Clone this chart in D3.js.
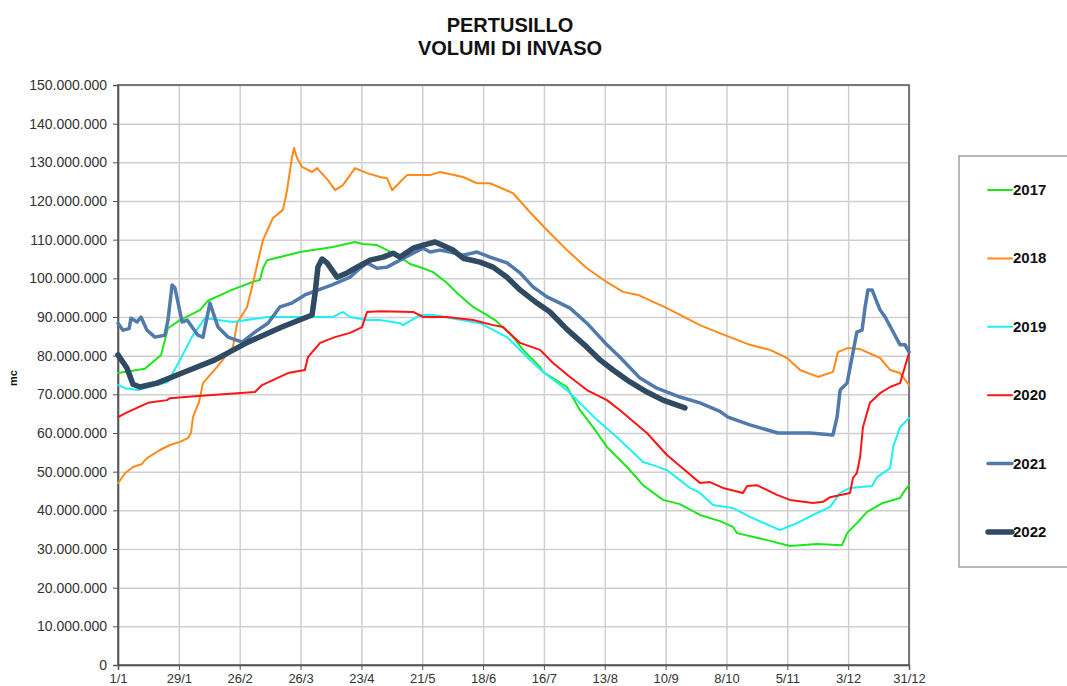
<!DOCTYPE html>
<html>
<head>
<meta charset="utf-8">
<script src="https://cdn.jsdelivr.net/npm/d3@7"></script>
<style>
  body { margin: 0; background: #fff; }
  svg { display: block; font-family: 'Liberation Sans', Arial, sans-serif; }
</style>
</head>
<body>
<svg id="chart" width="1067" height="686"></svg>
<script>
// [day of year, million m3]
const s2017 = [[0,75.5],[12.4,76.6],[19.8,80.2],[23,87.1],[28.5,89.2],[37.7,91.8],[41.4,94.2],[52.4,97],[61.6,99],[65.3,99.6],[66.7,102.6],[68.6,104.7],[83.8,106.8],[98.9,108.1],[109,109.4],[112.7,108.9],[119.2,108.6],[123.8,107.3],[129.8,105.5],[134.4,103.7],[140.4,102.6],[145,101.6],[151.4,98.8],[156,96.2],[163.4,92.6],[169.8,90.5],[173.5,89.2],[181.8,84.8],[186.4,81.5],[194.2,77.1],[195.6,75.8],[206.6,71.9],[212.6,65.9],[218.6,61.5],[225,56.4],[234.2,51.2],[241.6,46.5],[250.8,42.7],[258.6,41.6],[267.8,38.8],[277,37.2],[283,35.7],[284.9,34.1],[298.7,32.3],[309.2,30.8],[321.7,31.3],[333.2,31],[335.5,34.1],[340,36.7],[344.7,39.6],[352,41.9],[359.9,43.2],[361.3,44.5],[364,46.5]];
const s2018 = [[0,47],[3.2,49.6],[6.9,51.2],[11,52],[13.3,53.5],[19.3,55.6],[23.9,56.9],[28.5,57.7],[32.2,58.7],[33.6,60],[34.5,64.1],[37.3,68],[39.1,72.9],[45.6,77.1],[52.9,82.2],[54.8,88.4],[59.4,92.6],[62.1,98.8],[66.7,109.9],[71.3,115.6],[75.9,117.7],[77.8,122.8],[80.1,131.4],[81,133.7],[82.4,131.1],[84.7,128.8],[89.3,127.5],[91.6,128.5],[96.6,125.4],[99.9,122.8],[103.5,124.1],[109.1,128.5],[114.6,127.2],[120.6,126.2],[123.8,125.9],[126.1,122.8],[129.8,124.9],[133,126.7],[143.6,126.7],[148.2,127.5],[158.8,126.2],[165.2,124.6],[171.2,124.6],[181.8,122],[189.6,117.1],[197.4,112.5],[206.6,107.3],[215.8,102.6],[225,99],[232.4,96.5],[239.3,95.7],[252.6,92.3],[267.8,87.9],[275.7,86.1],[290.8,82.8],[300,81.5],[307.9,79.4],[313.9,76.3],[322.1,74.5],[329,75.8],[331.3,80.9],[335.9,82],[341.5,81.7],[350.7,79.4],[355.3,76.3],[359.9,75.5],[364,72.4]];
const s2019 = [[0,72.4],[3.2,71.6],[9.2,71.1],[23,73.2],[28.5,78.9],[34,84.8],[40,89.7],[52.9,88.7],[68.6,90],[98.9,90],[103.5,91.3],[106.8,90],[114.6,89.2],[120.6,89.2],[129.8,88.4],[131.2,87.9],[139,90.5],[145,90.5],[166.6,88.4],[179,84.8],[189.6,78.9],[195.6,75.8],[206.6,71.1],[220.4,63.4],[231,58.2],[241.6,52.5],[246.2,51.7],[252.6,50.4],[263.2,45.8],[267.8,44.5],[273.8,41.4],[283,40.6],[290.8,38.3],[304.6,34.9],[307.9,35.7],[312.5,36.7],[319.8,38.8],[327.7,40.9],[332.3,44.5],[336.9,45.8],[347,46.3],[349.3,48.6],[355.3,50.9],[356.7,56.4],[359.9,61.5],[364,63.9]];
const s2020 = [[0,64.1],[3.7,65.2],[13.8,67.8],[22.5,68.5],[23.9,69],[36.8,69.6],[63,70.6],[66.3,72.4],[78.2,75.5],[86,76.3],[87.4,79.6],[93,83.3],[99.8,84.8],[106.8,85.9],[112.3,87.4],[114.6,91.3],[120.6,91.5],[135.8,91.3],[140.4,90],[151.4,90],[163.4,89.2],[172.6,87.9],[177.2,87.4],[185,83.3],[194.2,81.5],[200.2,78.1],[208,74.5],[215.8,71.1],[225,68.5],[231,65.9],[243.4,60],[252.6,54.3],[264.6,48.6],[267.8,47.1],[272.4,47.3],[278.4,45.8],[287.6,44.5],[289.5,46.3],[294,46.5],[303.3,44],[309.2,42.7],[319.8,41.9],[324.4,42.2],[327.7,43.4],[336.9,44.5],[338.2,48.4],[340,49.6],[341.5,53.8],[342.8,61.5],[346,67.8],[350.7,70.3],[355.3,71.9],[359.9,72.9],[364,80.7]];
const s2021 = [[0,88.4],[2.3,86.6],[5.1,87],[6,89.7],[8.7,88.7],[10.6,90],[13.3,86.6],[17,84.8],[21.6,85.3],[23,89.2],[24.9,98.3],[26.2,97.5],[29.5,88.7],[31.8,89.2],[36.8,85.3],[39.1,84.8],[42.3,93.6],[46,87.4],[50.6,84.8],[57.1,83.5],[63,86.1],[69,88.4],[74.5,92.6],[80,93.6],[86,95.7],[98.5,98.3],[106.8,100.3],[111.4,102.6],[114.6,104],[119.2,102.6],[123.8,102.9],[129.8,104.7],[135.8,106.5],[140.4,107.8],[143.6,106.8],[148.2,107.3],[152.8,106.8],[158.8,106],[165.2,106.8],[171.2,105.5],[179,104],[185,101.4],[191,97.8],[197.4,95.2],[203.4,93.6],[208,92.3],[215.8,88.4],[225,82.8],[231,79.6],[240.2,74.2],[248,71.6],[258.6,69.3],[267.8,67.8],[277,65.6],[280.7,64.1],[290.8,62.1],[303.7,60],[318.5,60],[329,59.5],[330.9,64.1],[332.3,71.1],[335.5,72.9],[337.8,79.6],[340,86.1],[342.4,86.6],[343.8,92.6],[345.1,97],[347,97],[350.7,91.8],[353,90],[359.9,82.8],[362.2,82.8],[364,80.9]];
const s2022 = [[0,80.2],[4.1,76.8],[6.9,72.6],[10.1,71.9],[17.9,72.9],[29.5,75.5],[44.6,78.9],[59.8,83.5],[75.4,87.4],[89.3,90.5],[90.7,96.2],[92,102.9],[93.9,105],[96.2,104],[100.8,100.3],[105.4,101.4],[110,102.9],[116,104.7],[122,105.5],[126.6,106.5],[129.8,105.5],[135.8,107.8],[140.4,108.6],[145.9,109.4],[149.1,108.6],[154.2,107.3],[158.8,105.2],[166.6,104.2],[172.6,102.9],[179,100.3],[185,97],[192.8,93.6],[198.8,91.3],[206.6,86.8],[215.8,82.2],[221.8,78.9],[227.8,76.3],[235.6,73.2],[243.4,70.6],[250.8,68.5],[260.9,66.5]];

const years = ['2017', '2018', '2019', '2020', '2021', '2022'];
const xTickLabels = ['1/1', '29/1', '26/2', '26/3', '23/4', '21/5', '18/6', '16/7', '13/8', '10/9', '8/10', '5/11', '3/12', '31/12'];
const yTicks = [0, 10, 20, 30, 40, 50, 60, 70, 80, 90, 100, 110, 120, 130, 140, 150];

const series = [
  { name: years[0], values: s2017, color: '#1de61d', width: 2 },
  { name: years[1], values: s2018, color: '#ff8a1a', width: 2 },
  { name: years[2], values: s2019, color: '#1ff0f4', width: 2 },
  { name: years[3], values: s2020, color: '#ff1414', width: 2 },
  { name: years[4], values: s2021, color: '#4f7aab', width: 3.5 },
  { name: years[5], values: s2022, color: '#304a63', width: 5.5 },
];

const marginLeft = 118, marginTop = 85, width = 791, height = 580;

const svg = d3.select('#chart');

svg.append('text')
  .attr('x', 510).attr('y', 32)
  .attr('text-anchor', 'middle')
  .attr('font-size', '20px').attr('font-weight', 'bold').attr('fill', '#111')
  .text('PERTUSILLO');
svg.append('text')
  .attr('x', 510).attr('y', 55)
  .attr('text-anchor', 'middle')
  .attr('font-size', '20px').attr('font-weight', 'bold').attr('fill', '#111')
  .text('VOLUMI DI INVASO');

const g = svg.append('g').attr('transform', `translate(${marginLeft}, ${marginTop})`);

const xScale = d3.scaleLinear().domain([0, 364]).range([0, width]);
const yScale = d3.scaleLinear().domain([0, 150]).range([height, 0]);
const xTickDays = xTickLabels.map((d, i) => i * 28);

// grid
g.append('g')
  .attr('class', 'grid')
  .call(d3.axisLeft(yScale).tickValues(yTicks).tickSize(-width).tickFormat(''))
  .call((s) => s.select('.domain').remove())
  .selectAll('line').attr('stroke', '#cfcfcf').attr('stroke-width', 1.5);
g.append('g')
  .attr('class', 'grid')
  .attr('transform', `translate(0, ${height})`)
  .call(d3.axisBottom(xScale).tickValues(xTickDays).tickSize(-height).tickFormat(''))
  .call((s) => s.select('.domain').remove())
  .selectAll('line').attr('stroke', '#cfcfcf').attr('stroke-width', 1.5);

// plot border
g.append('rect')
  .attr('width', width).attr('height', height)
  .attr('fill', 'none').attr('stroke', '#555').attr('stroke-width', 1.5);

const yAxis = d3.axisLeft(yScale)
  .tickValues(yTicks)
  .tickSize(5)
  .tickPadding(6)
  .tickFormat((d) => (d === 0 ? '0' : d3.format(',')(d * 1e6).replace(/,/g, '.')));

g.append('g')
  .attr('class', 'yAxis')
  .call(yAxis)
  .call((s) => s.select('.domain').attr('stroke', '#555').attr('stroke-width', 1.5))
  .call((s) => s.selectAll('line').attr('stroke', '#555'))
  .selectAll('text')
  .attr('font-size', '14px').attr('fill', '#333');

const xAxis = d3.axisBottom(xScale)
  .tickValues(xTickDays)
  .tickSize(5)
  .tickPadding(4)
  .tickFormat((d, i) => xTickLabels[i]);

g.append('g')
  .attr('class', 'xAxis')
  .attr('transform', `translate(0, ${height})`)
  .call(xAxis)
  .call((s) => s.select('.domain').attr('stroke', '#555').attr('stroke-width', 1.5))
  .call((s) => s.selectAll('line').attr('stroke', '#555'))
  .selectAll('text')
  .attr('font-size', '13px').attr('fill', '#333');

svg.append('text')
  .attr('transform', 'translate(17, 378) rotate(-90)')
  .attr('text-anchor', 'middle')
  .attr('font-size', '11px').attr('font-weight', 'bold').attr('fill', '#111')
  .text('mc');

const line = d3.line()
  .x((d) => xScale(d[0]))
  .y((d) => yScale(d[1]));

g.append('g')
  .attr('class', 'lines')
  .selectAll('path')
  .data(series)
  .enter()
  .append('path')
  .attr('d', (d) => line(d.values))
  .attr('fill', 'none')
  .attr('stroke', (d) => d.color)
  .attr('stroke-width', (d) => d.width)
  .attr('stroke-linejoin', 'round')
  .attr('stroke-linecap', 'round');

// legend
const legend = svg.append('g').attr('class', 'legend');
legend.append('rect')
  .attr('x', 959).attr('y', 156)
  .attr('width', 120).attr('height', 411)
  .attr('fill', '#fff').attr('stroke', '#888').attr('stroke-width', 1.2);

const items = legend.selectAll('.item')
  .data(series)
  .enter()
  .append('g')
  .attr('class', 'item')
  .attr('transform', (d, i) => `translate(988, ${190 + i * 68.4})`);

items.append('line')
  .attr('x1', 0).attr('x2', 24)
  .attr('stroke', (d) => d.color)
  .attr('stroke-width', (d) => d.width)
  .attr('stroke-linecap', 'round');

items.append('text')
  .attr('x', 25).attr('y', 5)
  .attr('font-size', '15px').attr('font-weight', 'bold').attr('fill', '#111')
  .text((d) => d.name);
</script>
</body>
</html>
